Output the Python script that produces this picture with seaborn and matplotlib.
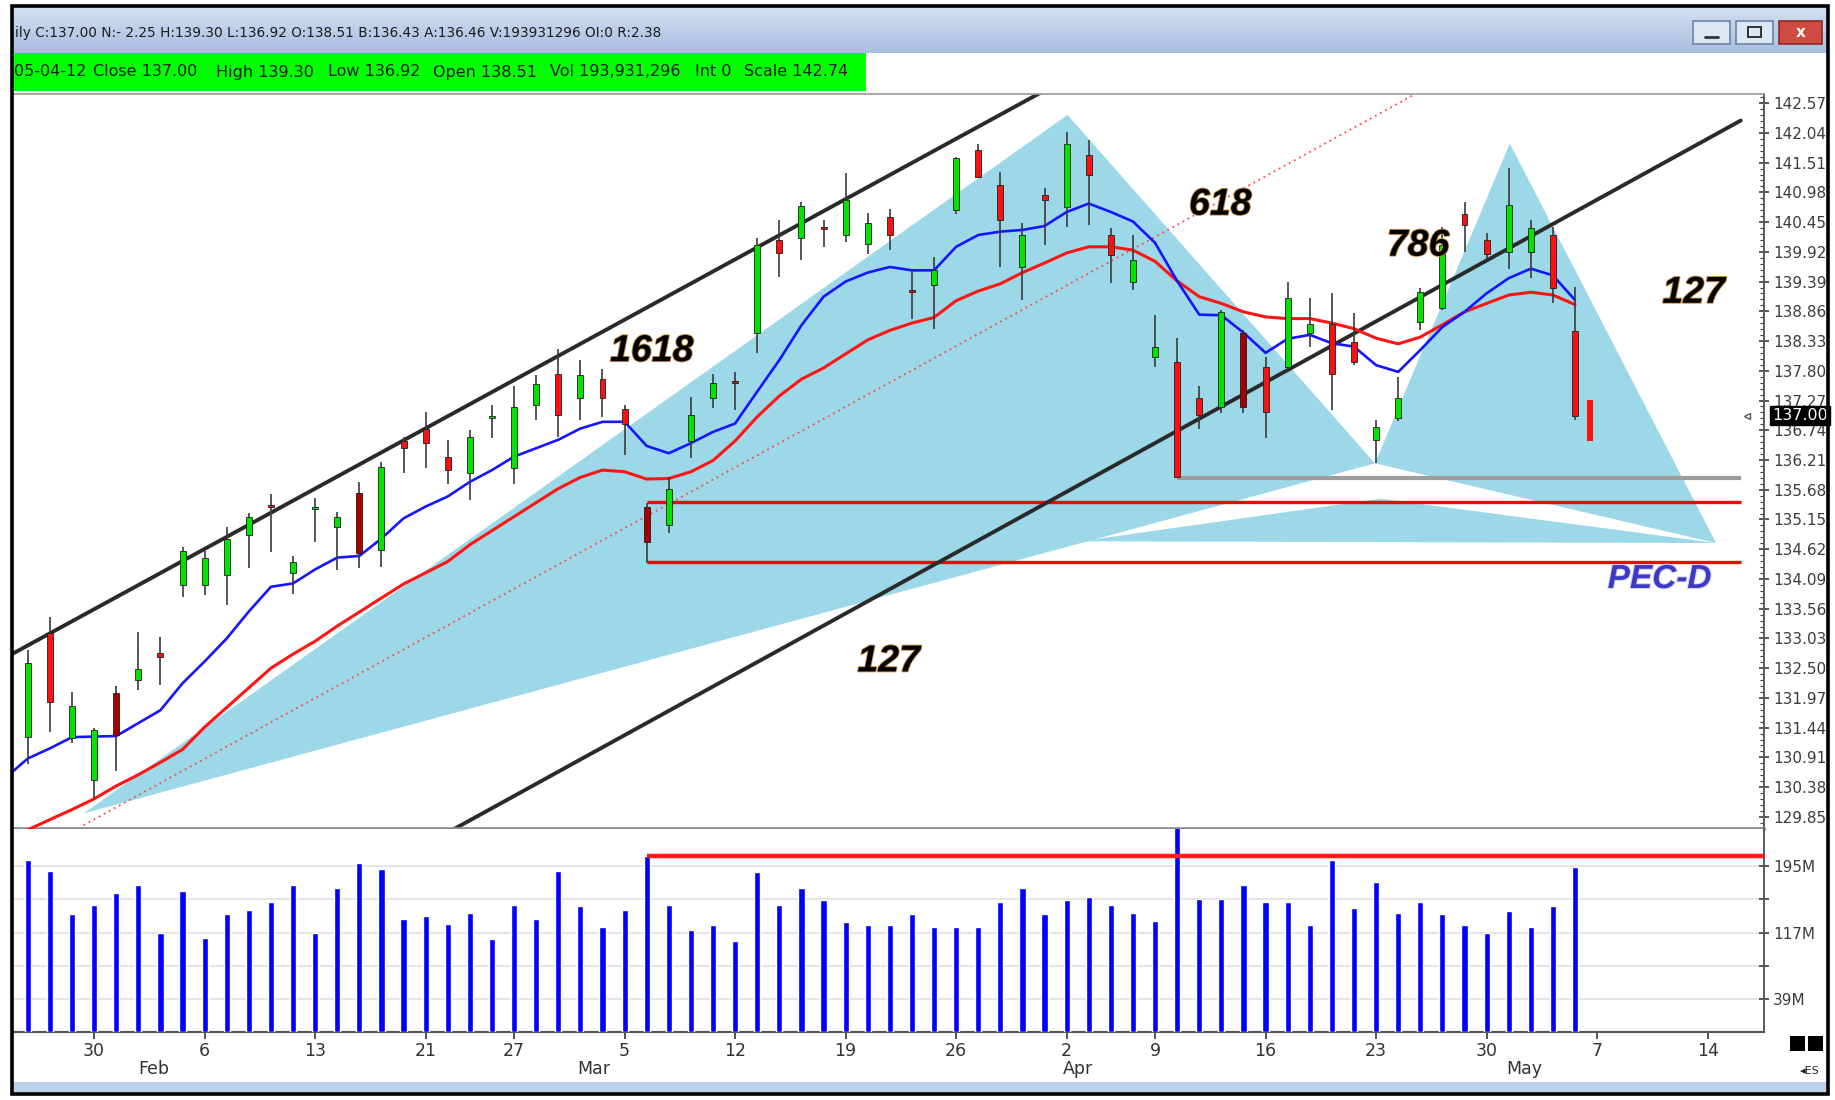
import numpy as np
import pandas as pd
import matplotlib
matplotlib.use("Agg")
import matplotlib.pyplot as plt
import matplotlib.transforms as mtransforms
import seaborn as sns
from matplotlib import patheffects as pe
from matplotlib.colors import LinearSegmentedColormap
from matplotlib.patches import Rectangle, Polygon
from matplotlib.ticker import MultipleLocator

# --- DATA: daily bars, trading-day index 0 = Wed Jan 25 2012
opens = [131.28, 133.12, 131.25, 130.51, 132.05, 132.29, 132.77, 133.98, 133.98, 134.16,
         134.87, 135.41, 134.19, 135.33, 135.01, 135.63, 134.61, 136.54, 136.77, 136.27,
         135.98, 136.95, 136.06, 137.19, 137.75, 137.31, 137.66, 137.11, 135.38, 135.05,
         136.54, 137.31, 137.60, 138.47, 140.13, 140.16, 140.37, 140.22, 140.06, 140.54,
         139.22, 139.33, 140.66, 141.74, 141.11, 139.65, 140.93, 140.72, 141.64, 140.22,
         139.39, 138.05, 137.96, 137.31, 137.16, 138.47, 137.87, 137.87, 138.47, 138.63,
         138.32, 136.57, 136.95, 138.67, 138.91, 140.60, 140.13, 139.92, 139.92, 140.22,
         138.51]
highs = [132.82, 133.42, 132.08, 131.43, 132.18, 133.15, 133.06, 134.66, 134.58, 135.02,
         135.26, 135.61, 134.49, 135.53, 135.29, 135.82, 136.18, 136.62, 137.07, 136.57,
         136.74, 137.19, 137.52, 137.72, 138.18, 138.00, 137.84, 137.19, 135.44, 135.91,
         137.34, 137.75, 137.77, 140.16, 140.48, 140.81, 140.48, 141.32, 140.62, 140.69,
         139.59, 139.83, 141.61, 141.85, 141.35, 140.43, 141.05, 142.06, 141.91, 140.34,
         140.22, 138.79, 138.38, 137.52, 138.88, 138.52, 138.05, 139.39, 139.09, 139.18,
         138.83, 136.92, 137.69, 139.27, 140.37, 140.81, 140.25, 141.42, 140.49, 140.37,
         139.30]
lows = [130.80, 131.37, 131.16, 130.18, 130.66, 132.11, 132.20, 133.77, 133.80, 133.63,
        134.28, 134.57, 133.83, 134.75, 134.25, 134.28, 134.31, 135.97, 136.06, 135.79,
        135.50, 136.60, 135.79, 136.92, 136.62, 136.92, 136.98, 136.30, 134.37, 134.90,
        136.24, 137.13, 137.10, 138.11, 139.48, 139.77, 140.01, 140.10, 139.89, 139.95,
        138.73, 138.55, 140.60, 141.23, 139.65, 139.07, 140.04, 140.37, 140.40, 139.36,
        139.24, 137.87, 135.91, 136.77, 137.04, 137.04, 136.60, 137.84, 138.23, 137.10,
        137.90, 136.15, 136.90, 138.53, 138.88, 139.92, 139.80, 139.62, 139.45, 139.00,
        136.92]
closes = [132.59, 131.90, 131.83, 131.40, 131.31, 132.48, 132.69, 134.58, 134.46, 134.81,
          135.20, 135.38, 134.39, 135.35, 135.19, 134.56, 136.09, 136.42, 136.51, 136.03,
          136.62, 136.97, 137.16, 137.56, 137.01, 137.72, 137.31, 136.85, 134.75, 135.70,
          137.01, 137.58, 137.58, 140.04, 139.90, 140.73, 140.33, 140.84, 140.44, 140.22,
          139.20, 139.59, 141.60, 141.26, 140.49, 140.22, 140.84, 141.85, 141.29, 139.86,
          139.78, 138.23, 135.91, 137.01, 138.85, 137.16, 137.07, 139.09, 138.63, 137.74,
          137.96, 136.80, 137.31, 139.21, 140.04, 140.40, 139.88, 140.75, 140.34, 139.27,
          137.00]
# volume, millions of shares
volumes = [202.2, 189.2, 139.3, 149.9, 162.9, 172.3, 116.5, 165.6, 110.6, 139.3,
           143.2, 152.3, 172.7, 116.9, 169.6, 199.1, 191.6, 133.4, 136.6, 127.1,
           140.1, 109.8, 149.9, 133.4, 189.2, 148.4, 123.6, 143.2, 207.0, 149.1,
           120.4, 125.5, 107.1, 188.5, 149.1, 169.6, 155.8, 129.5, 126.3, 126.3,
           139.3, 123.6, 123.6, 123.6, 152.3, 169.6, 139.3, 155.8, 159.0, 149.9,
           140.1, 130.3, 262.0, 156.2, 156.2, 172.7, 153.1, 152.3, 126.3, 202.2,
           146.4, 175.9, 140.1, 153.1, 139.3, 126.3, 116.9, 142.4, 123.6, 148.4,
           193.9]
dark_red_days = [4, 15, 28, 55]

# partial bar drawn after the last session
ghost_day = 70.66
ghost_open = 137.28
ghost_close = 136.54

# moving averages (fast = blue, slow = red)
fast_ma_first_day = -1
fast_ma = [130.55, 130.89, 131.07, 131.27, 131.28, 131.29, 131.52, 131.75, 132.23, 132.62,
           133.03, 133.51, 133.95, 134.01, 134.26, 134.47, 134.50, 134.81, 135.17, 135.38,
           135.56, 135.82, 136.03, 136.27, 136.42, 136.57, 136.77, 136.89, 136.89, 136.46,
           136.33, 136.51, 136.71, 136.86, 137.43, 137.99, 138.61, 139.12, 139.39, 139.55,
           139.65, 139.59, 139.59, 140.01, 140.22, 140.28, 140.31, 140.38, 140.63, 140.78,
           140.63, 140.46, 140.08, 139.40, 138.80, 138.79, 138.48, 138.12, 138.37, 138.44,
           138.29, 138.23, 137.90, 137.78, 138.17, 138.58, 138.85, 139.18, 139.45, 139.62,
           139.50, 139.06]
slow_ma_first_day = 0
slow_ma = [129.62, 129.80, 129.98, 130.17, 130.40, 130.60, 130.82, 131.05, 131.45, 131.80,
           132.15, 132.50, 132.75, 132.98, 133.25, 133.50, 133.75, 134.00, 134.20, 134.40,
           134.70, 134.95, 135.20, 135.45, 135.70, 135.90, 136.03, 136.00, 135.87, 135.88,
           136.00, 136.20, 136.55, 136.98, 137.35, 137.65, 137.85, 138.10, 138.35, 138.52,
           138.65, 138.75, 139.05, 139.22, 139.35, 139.55, 139.72, 139.90, 140.01, 140.01,
           139.95, 139.75, 139.40, 139.12, 139.00, 138.85, 138.76, 138.73, 138.73, 138.65,
           138.55, 138.38, 138.28, 138.40, 138.62, 138.85, 139.00, 139.15, 139.20, 139.15,
           138.98]

# drawings: channel, dotted trend, harmonic pattern (day, price)
channel_upper_days = [-1.0, 47.0]
channel_upper_prices = [132.69, 143.01]
channel_lower_days = [19.0, 77.5]
channel_lower_prices = [129.57, 142.26]
dotted_days = [2.52, 63.5]
dotted_prices = [129.70, 142.89]
xab_days = [2.52, 47.04, 60.95]
xab_prices = [129.91, 142.36, 136.15]
bcd_days = [60.95, 67.05, 76.38]
bcd_prices = [136.15, 141.85, 134.73]
band_days = [47.6, 61.21, 76.38]
band_prices = [134.76, 135.52, 134.73]

# horizontal levels: (price, first day, last day)
support_gray = (135.88, 52, 77.5)
red_levels = [(135.46, 28, 77.5), (134.40, 28, 77.5)]
volume_level = (207.5, 28)

note_texts = ["1618", "618", "786", "127", "127", "PEC-D"]
note_days = [28.23, 53.95, 62.9, 75.37, 38.95, 73.83]
note_prices = [138.15, 140.76, 140.03, 139.19, 132.62, 134.08]

price_labels = ["142.57", "142.04", "141.51", "140.98", "140.45", "139.92", "139.39",
                "138.86", "138.33", "137.80", "137.27", "136.74", "136.21", "135.68",
                "135.15", "134.62", "134.09", "133.56", "133.03", "132.50", "131.97",
                "131.44", "130.91", "130.38", "129.85"]
volume_ticks = [39, 78, 117, 156, 195]
volume_tick_labels = ["39M", "", "117M", "", "195M"]
date_tick_days = [3, 8, 13, 18, 22, 27, 32, 37, 42, 47, 51, 56, 61, 66, 71, 76]
date_tick_labels = ["30", "6", "13", "21", "27", "5", "12", "19", "26", "2", "9", "16",
                    "23", "30", "7", "14"]
month_days = [5.7, 25.6, 47.5, 67.7]
month_labels = ["Feb", "Mar", "Apr", "May"]

title_text = "ily C:137.00 N:- 2.25 H:139.30 L:136.92 O:138.51 B:136.43 A:136.46 V:193931296 OI:0 R:2.38"
status_items = ["05-04-12", "Close 137.00", "High 139.30", "Low 136.92", "Open 138.51",
                "Vol 193,931,296", "Int 0", "Scale 142.74"]

# --- FIGURE
sns.set_theme(style="white")
plt.rcParams["font.family"] = ["DejaVu Sans"]

W, H = 1835, 1100
fig = plt.figure(figsize=(W / 100, H / 100), dpi=100)
fig.patch.set_facecolor("white")

def rect(x0, y0, x1, y1):
    return [x0 / W, 1 - y1 / H, (x1 - x0) / W, (y1 - y0) / H]

ax = fig.add_axes(rect(12, 93.6, 1764, 828.6))
axv = fig.add_axes(rect(12, 828.6, 1764, 1032), sharex=ax)

x_left, x_right = -0.716, 78.55
ax.set_xlim(x_left, x_right)
ax.set_ylim(129.64, 142.74)
axv.set_ylim(0, 239.2)

df = pd.DataFrame({"day": np.arange(len(opens)), "open": opens, "high": highs,
                   "low": lows, "close": closes, "volume": volumes})

# harmonic pattern fills
fill_c = "#9cd8e7"
for dd, pp in [(xab_days, xab_prices), (bcd_days, bcd_prices), (band_days, band_prices)]:
    ax.add_patch(Polygon(list(zip(dd, pp)), closed=True, fc=fill_c, ec="none", zorder=1))

ax.plot(dotted_days, dotted_prices, color="#ff4a4a", lw=1.3, ls=(0, (1, 2.2)), zorder=2)
ax.hlines(support_gray[0], support_gray[1], support_gray[2], color="#9c9c9c", lw=3, zorder=2.2)
for lvl, d0, d1 in red_levels:
    ax.hlines(lvl, d0, d1, color="#ff0000", lw=2.4, zorder=2.2)
ax.plot(channel_upper_days, channel_upper_prices, color="#2a2a2a", lw=2.8, zorder=2.5)
ax.plot(channel_lower_days, channel_lower_prices, color="#2a2a2a", lw=2.8, zorder=2.5)

# moving averages
fast_days = np.arange(len(fast_ma)) + fast_ma_first_day
slow_days = np.arange(len(slow_ma)) + slow_ma_first_day
sns.lineplot(x=slow_days, y=slow_ma, ax=ax, color="#ff1414", linewidth=2.2,
             estimator=None, sort=False, zorder=3)
sns.lineplot(x=fast_days, y=fast_ma, ax=ax, color="#1515ff", linewidth=1.9,
             estimator=None, sort=False, zorder=3.1)

# candles
body_w = 0.27
up = df["close"] >= df["open"]
body_col = np.where(up, "#00e400", "#ff1010").astype(object)
for d in dark_red_days:
    body_col[d] = "#a80000"
ax.vlines(df["day"], df["low"], df["high"], color="#3a3a3a", lw=1.2, zorder=4)
body_lo = np.minimum(df["open"], df["close"])
body_h = np.maximum((df["close"] - df["open"]).abs(), 0.035)
ax.bar(df["day"], body_h, bottom=body_lo, width=body_w, color=list(body_col),
       edgecolor="#1e1e1e", linewidth=0.6, zorder=4.5)
ax.bar([ghost_day], [ghost_open - ghost_close], bottom=[ghost_close], width=body_w,
       color="#ff1010", edgecolor="none", zorder=4.5)

# pattern labels
for txt, d, p in zip(note_texts, note_days, note_prices):
    if txt == "PEC-D":
        ax.text(d, p, txt, fontsize=24, color="#3a3ac4", family="Liberation Sans",
                weight="bold", style="italic", ha="center", va="center", zorder=6,
                path_effects=[pe.withStroke(linewidth=1.5, foreground="#d0d0f4")])
    else:
        ax.text(d, p, txt, fontsize=27, color="black", family="Liberation Sans",
                weight="bold", style="italic", ha="center", va="center", zorder=6,
                path_effects=[pe.withStroke(linewidth=1.3, foreground="#c98a3c")])

# last price marker
blend = mtransforms.blended_transform_factory(ax.transAxes, ax.transData)
ax.plot([77.8], [closes[-1]], marker="<", ms=5, mfc="white", mec="#555555", zorder=6)
ax.text(1.0045, closes[-1], "137.00", transform=blend, ha="left", va="center",
        color="white", fontsize=11.5, zorder=10, clip_on=False,
        bbox=dict(boxstyle="square,pad=0.12", fc="black", ec="black"))

# price axis
ax.yaxis.tick_right()
ax.set_yticks([float(v) for v in price_labels])
ax.set_yticklabels(price_labels)
ax.yaxis.set_minor_locator(MultipleLocator(0.106))
ax.tick_params(axis="y", which="major", direction="inout", length=7, width=1.2,
               labelsize=11, labelcolor="#3c3c3c", color="#3c3c3c", pad=3, right=True)
ax.tick_params(axis="y", which="minor", direction="in", length=3, width=0.8,
               color="#3c3c3c", right=True)
ax.tick_params(axis="x", which="both", bottom=False, labelbottom=False)
ax.set_xlabel("")
ax.set_ylabel("")
ax.spines["left"].set_visible(False)
ax.spines["top"].set_color("#9a9a9a")
ax.spines["top"].set_linewidth(1.2)
ax.spines["right"].set_color("#5a5a5a")
ax.spines["right"].set_linewidth(1.4)
ax.spines["bottom"].set_color("#8a8a8a")
ax.spines["bottom"].set_linewidth(2.6)

# volume panel
axv.set_yticks(volume_ticks)
axv.yaxis.grid(True, color="#e2e2e2", lw=1.3)
axv.set_axisbelow(True)
sns.barplot(x=df["day"], y=df["volume"], ax=axv, native_scale=True, color="#0000ff",
            saturation=1, width=0.28, errorbar=None, zorder=3)
axv.hlines(volume_level[0], volume_level[1], x_right, color="#ff1a1a", lw=3.2, zorder=4)
axv.set_xlim(x_left, x_right)
axv.set_ylim(0, 239.2)
axv.yaxis.tick_right()
axv.set_yticks(volume_ticks)
axv.set_yticklabels(volume_tick_labels)
axv.tick_params(axis="y", direction="inout", length=7, width=1.2, labelsize=11,
                labelcolor="#3c3c3c", color="#3c3c3c", pad=3, right=True, left=False)
axv.set_xticks(date_tick_days)
axv.set_xticklabels(date_tick_labels)
axv.tick_params(axis="x", direction="out", length=5, width=1.2, labelsize=12.5,
                labelcolor="#333333", color="#333333", pad=2, bottom=True)
axv.set_xlabel("")
axv.set_ylabel("")
axv.spines["left"].set_visible(False)
axv.spines["top"].set_visible(False)
axv.spines["right"].set_color("#5a5a5a")
axv.spines["right"].set_linewidth(1.4)
axv.spines["bottom"].set_color("#555555")
axv.spines["bottom"].set_linewidth(1.5)
mblend = mtransforms.blended_transform_factory(axv.transData, axv.transAxes)
for d, m in zip(month_days, month_labels):
    axv.text(d, -0.18, m, transform=mblend, ha="center", va="center", fontsize=12.5,
             color="#333333")

# --- WINDOW CHROME
hd = fig.add_axes(rect(12, 6, 1828, 91))
hd.set_xlim(12, 1828)
hd.set_ylim(91, 6)
hd.axis("off")
tb_cmap = LinearSegmentedColormap.from_list("tb", ["#d4e1f2", "#a6bedf"])
hd.imshow(np.linspace(0, 1, 60)[:, None], cmap=tb_cmap, extent=[12, 1828, 53, 6],
          aspect="auto", zorder=0)
hd.set_xlim(12, 1828)
hd.set_ylim(91, 6)
hd.add_patch(Rectangle((12, 53), 854, 38, fc="#00ff00", ec="none", zorder=1))
hd.text(15, 33, title_text, fontsize=9.8, color="#1c1c1c", va="center", ha="left",
        zorder=2)
status_x = [14, 93, 216, 328, 433, 550, 695, 744]
for sx, s in zip(status_x, status_items):
    hd.text(sx, 72, s, fontsize=11.5, color="#1c1c1c", va="center", ha="left", zorder=2)
for bx, bw, fc, ec in [(1693, 37, "#dde7f3", "#6d84a6"), (1736, 37, "#dde7f3", "#6d84a6"),
                       (1779, 43, "#cf4a40", "#8a2a25")]:
    hd.add_patch(Rectangle((bx, 21), bw, 23, fc=fc, ec=ec, lw=1.2, zorder=2))
hd.plot([1705, 1718], [37, 37], color="#333333", lw=2, zorder=3)
hd.add_patch(Rectangle((1748, 27), 13, 10, fc="none", ec="#333333", lw=1.4, zorder=3))
hd.text(1800.5, 32.5, "x", color="white", fontsize=11, weight="bold", ha="center",
        va="center", zorder=3)

ch = fig.add_axes([0, 0, 1, 1], zorder=20)
ch.set_xlim(0, W)
ch.set_ylim(H, 0)
ch.axis("off")
ch.patch.set_visible(False)
ch.add_patch(Rectangle((12, 1082), 1816, 12, fc="#bcd2ea", ec="none"))
ch.add_patch(Rectangle((1790, 1036), 15, 15, fc="black", ec="none"))
ch.add_patch(Rectangle((1808, 1036), 15, 15, fc="black", ec="none"))
ch.text(1810, 1071, "\u25c2ES", fontsize=8, color="#222222", ha="center", va="center")
ch.add_patch(Rectangle((11.5, 6), 1816.5, 1088, fill=False, ec="black", lw=2.6))

fig.savefig("out.png", dpi=100)
